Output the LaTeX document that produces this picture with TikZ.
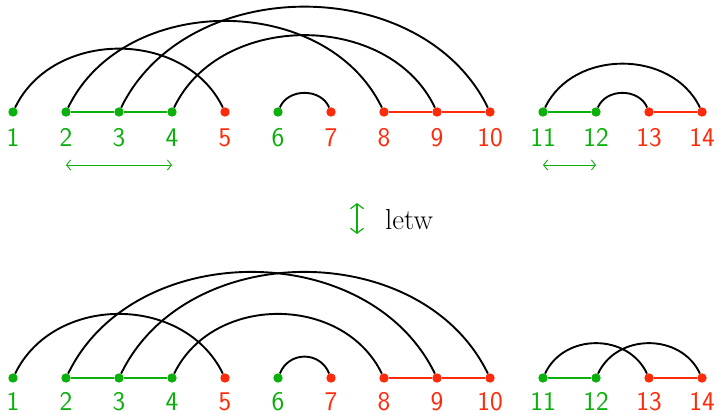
\documentclass[tikz,border=0pt]{standalone}
\usepackage{fontspec}
\usetikzlibrary{arrows.meta}
\definecolor{gcol}{RGB}{12,176,12}
\definecolor{rcol}{RGB}{255,42,10}
\tikzset{
  dotg/.style={circle,fill=gcol,inner sep=0pt,minimum size=9.4pt},
  dotr/.style={circle,fill=rcol,inner sep=0pt,minimum size=9.4pt},
  labg/.style={text=gcol,anchor=base,inner sep=0pt,font=\sffamily\fontsize{27}{30}\selectfont},
  labr/.style={text=rcol,anchor=base,inner sep=0pt,font=\sffamily\fontsize{27}{30}\selectfont},
  arc/.style={draw=black,line width=1.9pt},
  glin/.style={draw=gcol,line width=2pt},
  rlin/.style={draw=rcol,line width=2pt},
  span/.style={draw=gcol,line width=0.9pt,{Straight Barb[length=4pt,width=10pt]}-{Straight Barb[length=4pt,width=10pt]}},
}
\begin{document}
\begin{tikzpicture}[x=1pt,y=1pt]
\useasboundingbox (0,0) rectangle (717,414);
% row positions
\foreach \i/\c in {1/g,2/g,3/g,4/g,5/r,6/g,7/r,8/r,9/r,10/r,11/g,12/g,13/r,14/r}{
  \pgfmathsetmacro{\xx}{13+53*(\i-1)}
  \node[dot\c] (t\i) at (\xx,302) {};
  \node[lab\c] (tl\i) at (\xx,267) {\i};
  \node[dot\c] (b\i) at (\xx,36) {};
  \node[lab\c] (bl\i) at (\xx,3.5) {\i};
}
% top row lines
\path[glin] (t2) -- (t3) (t3) -- (t4) (t11) -- (t12);
\path[rlin] (t8) -- (t9) (t9) -- (t10) (t13) -- (t14);
% top arcs
\path[arc] (t1) .. controls +(40,83) and +(-40,83) .. (t5);
\path[arc] (t2) .. controls +(58,120) and +(-58,120) .. (t8);
\path[arc] (t3) .. controls +(68,139) and +(-68,139) .. (t10);
\path[arc] (t4) .. controls +(48,101) and +(-48,101) .. (t9);
\path[arc] (t6) .. controls +(10,24) and +(-10,24) .. (t7);
\path[arc] (t12) .. controls +(10,24) and +(-10,24) .. (t13);
\path[arc] (t11) .. controls +(30,63) and +(-30,63) .. (t14);
% bottom row lines
\path[glin] (b2) -- (b3) (b3) -- (b4) (b11) -- (b12);
\path[rlin] (b8) -- (b9) (b9) -- (b10) (b13) -- (b14);
% bottom arcs
\path[arc] (b1) .. controls +(41,84) and +(-41,84) .. (b5);
\path[arc] (b2) .. controls +(68,140) and +(-68,140) .. (b9);
\path[arc] (b3) .. controls +(68,140) and +(-68,140) .. (b10);
\path[arc] (b4) .. controls +(41,84) and +(-41,84) .. (b8);
\path[arc] (b6) .. controls +(11,27) and +(-11,27) .. (b7);
\path[arc] (b11) .. controls +(21,45) and +(-21,45) .. (b13);
\path[arc] (b12) .. controls +(21,45) and +(-21,45) .. (b14);
% span arrows
\coordinate (s1a) at (66,249);
\coordinate (s1b) at (172,249);
\coordinate (s2a) at (543,249);
\coordinate (s2b) at (596,249);
\draw[span] (s1a) -- (s1b);
\draw[span] (s2a) -- (s2b);
% middle
\coordinate (ma) at (357,211);
\coordinate (mb) at (357,180);
\draw[draw=gcol,line width=1.2pt,{Straight Barb[length=5pt,width=13pt]}-{Straight Barb[length=5pt,width=13pt]}] (ma) -- (mb);
\node[anchor=base,inner sep=0pt,font=\fontsize{29}{32}\selectfont] (letw) at (409,184) {letw};
\end{tikzpicture}
\end{document}
